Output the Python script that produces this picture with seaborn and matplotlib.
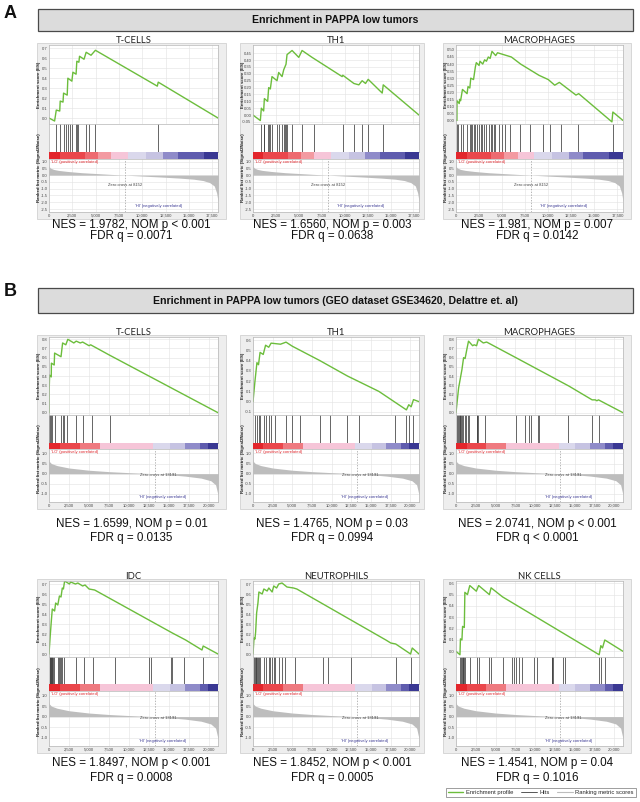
import numpy as np
import matplotlib
matplotlib.use("Agg")
import matplotlib.pyplot as plt
from matplotlib.lines import Line2D
from matplotlib.patches import Rectangle
import seaborn as sns

# ---------------- data ----------------
N_A = 18100
N_B = 21100
ZERO_A = 8152
ZERO_B = 13191

# ranked list metric (Signal2Noise), one per dataset
rank_a_x = [0, 30, 150, 500, 1000, 2000, 3500, 5000, 6500, 8152, 10000, 12000, 14000, 15500, 16500, 17200, 17700, 17950, 18100]
rank_a_y = [0.78, 0.62, 0.52, 0.42, 0.35, 0.27, 0.18, 0.12, 0.06, 0.0, -0.07, -0.14, -0.22, -0.30, -0.40, -0.55, -0.80, -1.30, -1.90]
rank_b_x = [0, 50, 300, 1000, 2500, 5000, 7500, 10000, 13191, 15000, 17000, 19000, 20200, 20800, 21100]
rank_b_y = [0.72, 0.60, 0.50, 0.40, 0.28, 0.17, 0.10, 0.05, 0.0, -0.05, -0.12, -0.22, -0.35, -0.55, -1.05]

# colour bar block edges (fraction of the ranked list)
cbar_a_edges = [0, .063, .211, .29, .369, .467, .576, .675, .763, .915, 1.0]
cbar_a_colors = ["#e3262c", "#ea474c", "#ee6a70", "#f39aa1", "#f6c5d8", "#dad8ec", "#c6c3e2", "#8f8bc9", "#5f5cae", "#3a3893"]
cbar_b_edges = [0, .063, .182, .30, .615, .714, .803, .892, .941, 1.0]
cbar_b_colors = ["#e3262c", "#ea474c", "#ef7a80", "#f6c5d8", "#dad8ec", "#c6c3e2", "#8f8bc9", "#5f5cae", "#3a3893"]

# --- A: T-CELLS
tcells_a_x = [0, 600, 780, 1150, 1200, 1500, 1560, 1950, 2020, 2450, 2560, 2900, 2980, 3200, 3270, 3750, 3980, 4500, 4970, 11600, 11700, 18100]
tcells_a_es = [0, -0.03, 0.08, 0.07, 0.17, 0.16, 0.25, 0.23, 0.40, 0.37, 0.46, 0.44, 0.57, 0.56, 0.62, 0.59, 0.66, 0.63, 0.68, 0.32, 0.36, 0.0]
tcells_a_hits = [780, 1200, 1560, 1850, 2020, 2200, 2490, 2840, 2980, 3090, 3980, 4260, 4970, 11650]

# --- A: TH1
th1_a_x = [0, 800, 910, 1160, 1240, 1600, 1710, 1890, 2070, 2620, 2800, 3170, 3350, 3600, 3710, 4260, 4990, 5350, 6440, 9720, 9790, 11000, 11540, 11900, 12270, 12560, 14090, 14200, 18100]
th1_a_es = [0, -0.04, 0.05, 0.03, 0.12, 0.10, 0.20, 0.19, 0.28, 0.25, 0.31, 0.28, 0.33, 0.37, 0.44, 0.47, 0.42, 0.47, 0.42, 0.28, 0.29, 0.23, 0.22, 0.25, 0.23, 0.26, 0.16, 0.22, 0.0]
th1_a_hits = [910, 1160, 1240, 1600, 1710, 1890, 2070, 2620, 2800, 3170, 3350, 3460, 3600, 3710, 4260, 5350, 6620, 9790, 11000, 11900, 12560, 14200]

# --- A: MACROPHAGES
macro_a_x = [0, 100, 107, 350, 400, 500, 700, 1200, 1300, 1500, 1600, 1900, 2100, 2200, 2500, 2600, 2900, 3100, 3300, 3500, 3700, 3900, 4300, 4500, 5000, 5500, 6000, 7000, 9000, 10000, 10700, 11200, 13000, 13300, 16900, 17000, 18100]
macro_a_es = [0, 0.0, 0.14, 0.12, 0.15, 0.14, 0.22, 0.19, 0.24, 0.23, 0.30, 0.29, 0.38, 0.41, 0.39, 0.42, 0.40, 0.43, 0.42, 0.45, 0.44, 0.49, 0.46, 0.48, 0.47, 0.46, 0.45, 0.40, 0.32, 0.29, 0.25, 0.27, 0.18, 0.19, -0.01, 0.06, 0.0]
macro_a_hits = [107, 250, 530, 710, 1240, 1530, 1600, 1780, 1960, 2060, 2240, 2490, 2670, 2850, 3030, 3200, 3560, 3740, 3920, 4090, 4270, 4630, 4980, 5340, 5870, 6940, 8010, 9430, 10140, 11390, 13170, 17020]

# --- B: T-CELLS
tcells_b_x = [0, 10, 80, 280, 300, 650, 700, 1500, 1700, 2100, 2350, 3100, 3400, 3900, 4200, 5000, 5200, 7500, 21100]
tcells_b_es = [0, 0.22, 0.41, 0.39, 0.54, 0.52, 0.65, 0.61, 0.76, 0.74, 0.80, 0.76, 0.78, 0.76, 0.77, 0.73, 0.74, 0.63, 0.0]
tcells_b_hits = [0, 80, 290, 410, 700, 1530, 1740, 1820, 2240, 3400, 4220, 5380, 7620]

# --- B: TH1
th1_b_x = [0, 250, 500, 700, 900, 1300, 1600, 2000, 2300, 3500, 4200, 5000, 6000, 8500, 12000, 16000, 19500, 19800, 20100, 20400, 21100]
th1_b_es = [0, 0.20, 0.38, 0.36, 0.48, 0.46, 0.55, 0.53, 0.57, 0.56, 0.58, 0.54, 0.50, 0.40, 0.25, 0.10, -0.08, -0.03, -0.05, 0.02, 0.0]
th1_b_hits = [250, 500, 750, 900, 1400, 1600, 2000, 2300, 2800, 4200, 5000, 6000, 8500, 9800, 12000, 13500, 18000, 19500, 19800, 20400]

# --- B: MACROPHAGES
macro_b_x = [0, 120, 330, 540, 750, 960, 1150, 1370, 1580, 2100, 2300, 2600, 2830, 3450, 3870, 8000, 14270, 17200, 17600, 17800, 18000, 21100]
macro_b_es = [0, 0.10, 0.27, 0.37, 0.47, 0.60, 0.59, 0.69, 0.78, 0.73, 0.74, 0.73, 0.80, 0.76, 0.77, 0.58, 0.29, 0.14, 0.14, 0.13, 0.14, 0.0]
macro_b_hits = [125, 250, 375, 460, 540, 625, 750, 870, 1080, 1290, 1460, 1580, 2620, 2700, 2830, 3660, 7610, 8780, 9280, 9490, 10320, 10440, 14190, 17180, 18010]

# --- B: IDC
idc_b_x = [0, 160, 290, 410, 700, 830, 1100, 1300, 1500, 1660, 1800, 1950, 2550, 2700, 3300, 3600, 4200, 4500, 5000, 5700, 15400, 17060, 19100, 19250, 21100]
idc_b_es = [0, 0.19, 0.33, 0.45, 0.43, 0.51, 0.49, 0.58, 0.57, 0.66, 0.65, 0.73, 0.70, 0.72, 0.70, 0.71, 0.68, 0.69, 0.65, 0.64, 0.21, 0.14, 0.04, 0.08, 0.0]
idc_b_hits = [80, 170, 210, 290, 370, 410, 500, 580, 1120, 1240, 1320, 1530, 1660, 1820, 3400, 4430, 5460, 8280, 12500, 12710, 15190, 15320, 16850, 19210]

# --- B: NEUTROPHILS
neutro_b_x = [0, 130, 250, 335, 460, 630, 750, 1170, 1380, 1800, 2010, 2430, 2640, 3000, 3270, 3690, 4320, 5150, 5570, 16890, 17510, 18140, 20030, 20240, 21100]
neutro_b_es = [0, 0.16, 0.15, 0.22, 0.41, 0.51, 0.62, 0.60, 0.65, 0.63, 0.66, 0.62, 0.68, 0.66, 0.70, 0.71, 0.67, 0.66, 0.65, 0.14, 0.11, 0.10, 0.0, 0.06, 0.0]
neutro_b_hits = [130, 250, 335, 420, 545, 630, 750, 880, 1380, 1590, 2010, 2220, 2430, 2720, 2850, 3270, 3690, 4110, 5360, 8840, 9550, 12490, 18140, 20030]

# --- B: NK CELLS
nk_b_x = [0, 500, 560, 750, 830, 1050, 1120, 1450, 1740, 2570, 2860, 4220, 4430, 5880, 18090, 18300, 18510, 18800, 21100]
nk_b_es = [0, -0.03, 0.11, 0.10, 0.22, 0.21, 0.52, 0.50, 0.58, 0.53, 0.58, 0.50, 0.56, 0.48, -0.03, 0.05, 0.03, 0.10, 0.0]
nk_b_hits = [500, 580, 700, 830, 910, 1040, 1120, 1740, 2690, 2860, 4220, 4430, 5880, 7120, 7330, 7540, 7950, 8360, 9810, 10220, 12090, 12170, 12300, 13540, 13750, 18090, 18300, 18800]

titles = ["T-CELLS", "TH1", "MACROPHAGES", "T-CELLS", "TH1", "MACROPHAGES", "IDC", "NEUTROPHILS", "NK CELLS"]
nes_lines = ["NES = 1.9782, NOM p < 0.001", "NES = 1.6560, NOM p = 0.003", "NES = 1.981, NOM p = 0.007",
             "NES = 1.6599, NOM p = 0.01", "NES = 1.4765, NOM p = 0.03", "NES = 2.0741, NOM p < 0.001",
             "NES = 1.8497, NOM p < 0.001", "NES = 1.8452, NOM p < 0.001", "NES = 1.4541, NOM p = 0.04"]
fdr_lines = ["FDR q = 0.0071", "FDR q = 0.0638", "FDR q = 0.0142",
             "FDR q = 0.0135", "FDR q = 0.0994", "FDR q < 0.0001",
             "FDR q = 0.0008", "FDR q = 0.0005", "FDR q = 0.1016"]

es_ticks_a = [[0.0, 0.1, 0.2, 0.3, 0.4, 0.5, 0.6, 0.7],
              [-0.05, 0.0, 0.05, 0.1, 0.15, 0.2, 0.25, 0.3, 0.35, 0.4, 0.45],
              [0.0, 0.05, 0.1, 0.15, 0.2, 0.25, 0.3, 0.35, 0.4, 0.45, 0.5]]
es_ticks_b = [[0.0, 0.1, 0.2, 0.3, 0.4, 0.5, 0.6, 0.7, 0.8],
              [-0.1, 0.0, 0.1, 0.2, 0.3, 0.4, 0.5, 0.6],
              [0.0, 0.1, 0.2, 0.3, 0.4, 0.5, 0.6, 0.7, 0.8],
              [0.0, 0.1, 0.2, 0.3, 0.4, 0.5, 0.6, 0.7],
              [0.0, 0.1, 0.2, 0.3, 0.4, 0.5, 0.6, 0.7],
              [0.0, 0.1, 0.2, 0.3, 0.4, 0.5, 0.6]]
rank_ticks_a = [1.0, 0.5, 0.0, -0.5, -1.0, -1.5, -2.0, -2.5]
rank_ticks_b = [1.0, 0.5, 0.0, -0.5, -1.0]
xticks_a = [0, 2500, 5000, 7500, 10000, 12500, 15000, 17500]
xticks_b = [0, 2500, 5000, 7500, 10000, 12500, 15000, 17500, 20000]

# ---------------- layout (pixels) ----------------
W, H = 640, 802
GREEN = "#6cbd3c"
COLS = [(49, 218, 37, 226), (253, 419, 240, 424), (456, 623, 443, 631)]
ROW_A = dict(es=(45, 124), hits=(124, 152), cbar=(152, 159), rank=(159, 212), box=(43, 219), nes=228, fdr=239.5)
ROW_B1 = dict(es=(337, 415), hits=(415, 443), cbar=(443, 449), rank=(449, 502), box=(335, 509), nes=527, fdr=541)
ROW_B2 = dict(es=(581, 657), hits=(657, 684), cbar=(684, 691), rank=(691, 746), box=(579, 753), nes=766, fdr=781)

sns.set_theme(style="white")
plt.rcParams["font.family"] = ["Liberation Sans", "DejaVu Sans"]

fig = plt.figure(figsize=(W / 100, H / 100), dpi=100)


def px_axes(x0, x1, y0, y1):
    return fig.add_axes([x0 / W, 1 - y1 / H, (x1 - x0) / W, (y1 - y0) / H])


def style(ax, grid=True):
    ax.grid(grid, color="#e2e2e2", lw=0.4)
    ax.tick_params(labelsize=3, length=0, pad=1.2, colors="#444444")
    for s in ax.spines.values():
        s.set_color("#b5b5b5")
        s.set_linewidth(0.5)
    ax.set_xlabel("")
    ax.set_ylabel("")


def panel(col, row, idx, es_x, es_y, hits, es_ticks, es_fmt, es_ylim, dataset):
    x0, x1, bx0, bx1 = COLS[col]
    if dataset == "A":
        n, rx, ry, rticks, xt = N_A, rank_a_x, rank_a_y, rank_ticks_a, xticks_a
        edges, colors, zc, rylim = cbar_a_edges, cbar_a_colors, ZERO_A, (-2.72, 1.19)
        zc_pos, hi_pos, lo_y = (8150, -0.7), (11700, -2.3), 1.0
    else:
        n, rx, ry, rticks, xt = N_B, rank_b_x, rank_b_y, rank_ticks_b, xticks_b
        edges, colors, zc, rylim = cbar_b_edges, cbar_b_colors, ZERO_B, (-1.4, 1.22)
        zc_pos, hi_pos, lo_y = (13600, -0.07), (14200, -1.14), 1.07

    # panel background
    by0, by1 = row["box"]
    fig.add_artist(Rectangle((bx0 / W, 1 - by1 / H), (bx1 - bx0) / W, (by1 - by0) / H,
                             transform=fig.transFigure, facecolor="#eeeeee",
                             edgecolor="#d2d2d2", lw=0.6, zorder=-1))

    # enrichment score
    ax = px_axes(x0, x1, *row["es"])
    sns.lineplot(x=es_x, y=es_y, ax=ax, color=GREEN, lw=1.0, sort=False, estimator=None)
    ax.set_xlim(0, n)
    ax.set_ylim(*es_ylim)
    ax.set_yticks(es_ticks)
    ax.set_yticklabels([es_fmt % t for t in es_ticks])
    ax.set_xticks(xt)
    ax.set_xticklabels([])
    style(ax)
    ax.set_title(titles[idx], fontsize=6.8, family=["Lato", "DejaVu Sans"], pad=1.5, color="#222222")

    # hits
    axh = px_axes(x0, x1, *row["hits"])
    axh.vlines(hits, 0, 1, color="#3c3c3c", lw=0.55)
    axh.set_xlim(0, n)
    axh.set_ylim(0, 1)
    axh.set_xticks([])
    axh.set_yticks([])
    style(axh, grid=False)

    # colour bar of the ranked list
    axc = px_axes(x0, x1, *row["cbar"])
    left = np.array(edges[:-1]) * n
    width = np.diff(edges) * n
    axc.barh(0, width, left=left, height=1, color=colors, align="edge", lw=0)
    axc.set_xlim(0, n)
    axc.set_ylim(0, 1)
    axc.axis("off")

    # ranked list metric
    axr = px_axes(x0, x1, *row["rank"])
    axr.fill_between(rx, ry, 0, color="#bdbdbd", lw=0)
    axr.axvline(zc, color="#9a9a9a", lw=0.5, ls=(0, (2, 2)))
    axr.set_xlim(0, n)
    axr.set_ylim(*rylim)
    axr.set_yticks(rticks)
    axr.set_yticklabels(["%.1f" % t for t in rticks])
    axr.set_xticks(xt)
    axr.set_xticklabels(["{:,}".format(t) for t in xt])
    style(axr)
    axr.text(n * 0.012, lo_y, "'LO' (positively correlated)", color="#e0262c", fontsize=3, va="center")
    axr.text(zc_pos[0], zc_pos[1], "Zero cross at %d" % zc, color="#444444", fontsize=3, ha="center", va="center")
    axr.text(hi_pos[0], hi_pos[1], "'HI' (negatively correlated)", color="#3a3893", fontsize=3, ha="center", va="center")

    # y labels in the grey margin
    ey0, ey1 = row["es"]
    fig.text((x0 - 10) / W, 1 - (ey0 + ey1) / 2 / H, "Enrichment score (ES)", rotation=90,
             fontsize=3.2, fontweight="bold", ha="center", va="center", color="#222222")
    hy0 = row["hits"][0]
    ry1 = row["rank"][1]
    fig.text((x0 - 10) / W, 1 - (hy0 + ry1) / 2 / H, "Ranked list metric (Signal2Noise)", rotation=90,
             fontsize=3.2, fontweight="bold", ha="center", va="center", color="#222222")

    # statistics
    cx = (bx0 + bx1) / 2 / W
    fig.text(cx, 1 - row["nes"] / H, nes_lines[idx], fontsize=8.4, ha="center", va="baseline", color="#111111")
    fig.text(cx, 1 - row["fdr"] / H, fdr_lines[idx], fontsize=8.4, ha="center", va="baseline", color="#111111")


def header(y0, y1, text, letter):
    fig.add_artist(Rectangle((38 / W, 1 - y1 / H), (633 - 38) / W, (y1 - y0) / H,
                             transform=fig.transFigure, facecolor="#dcdcdc",
                             edgecolor="#4a4a4a", lw=0.9, zorder=-1))
    fig.text(335.5 / W, 1 - (y0 + y1) / 2 / H, text, fontsize=7.6, fontweight="bold",
             ha="center", va="center", color="#111111")
    fig.text(4 / W, 1 - (y0 + 4) / H, letter, fontsize=13, fontweight="bold",
             ha="left", va="center", color="#111111")


header(9, 31, "Enrichment in PAPPA low tumors", "A")
header(288, 313, "Enrichment in PAPPA low tumors (GEO dataset GSE34620, Delattre et. al)", "B")

panel(0, ROW_A, 0, tcells_a_x, tcells_a_es, tcells_a_hits, es_ticks_a[0], "%.1f", (-0.06, 0.733), "A")
panel(1, ROW_A, 1, th1_a_x, th1_a_es, th1_a_hits, es_ticks_a[1], "%.2f", (-0.065, 0.51), "A")
panel(2, ROW_A, 2, macro_a_x, macro_a_es, macro_a_hits, es_ticks_a[2], "%.2f", (-0.025, 0.535), "A")

panel(0, ROW_B1, 3, tcells_b_x, tcells_b_es, tcells_b_hits, es_ticks_b[0], "%.1f", (-0.025, 0.825), "B")
panel(1, ROW_B1, 4, th1_b_x, th1_b_es, th1_b_hits, es_ticks_b[1], "%.1f", (-0.13, 0.63), "B")
panel(2, ROW_B1, 5, macro_b_x, macro_b_es, macro_b_hits, es_ticks_b[2], "%.1f", (-0.025, 0.825), "B")

panel(0, ROW_B2, 6, idc_b_x, idc_b_es, idc_b_hits, es_ticks_b[3], "%.1f", (-0.03, 0.73), "B")
panel(1, ROW_B2, 7, neutro_b_x, neutro_b_es, neutro_b_hits, es_ticks_b[4], "%.1f", (-0.03, 0.73), "B")
panel(2, ROW_B2, 8, nk_b_x, nk_b_es, nk_b_hits, es_ticks_b[5], "%.1f", (-0.05, 0.62), "B")

handles = [Line2D([], [], color=GREEN, lw=1.0),
           Line2D([], [], color="#3c3c3c", lw=0.6),
           Line2D([], [], color="#bdbdbd", lw=0.8)]
leg = fig.legend(handles, ["Enrichment profile", "Hits", "Ranking metric scores"],
                 loc="lower right", bbox_to_anchor=(636 / W, 1 - 797 / H), ncol=3, fontsize=4.2,
                 frameon=True, edgecolor="#555555", fancybox=False, handlelength=2.7,
                 columnspacing=1.2, borderpad=0.35, handletextpad=0.5, borderaxespad=0)
leg.get_frame().set_linewidth(0.5)

fig.savefig("out.png", dpi=100)
